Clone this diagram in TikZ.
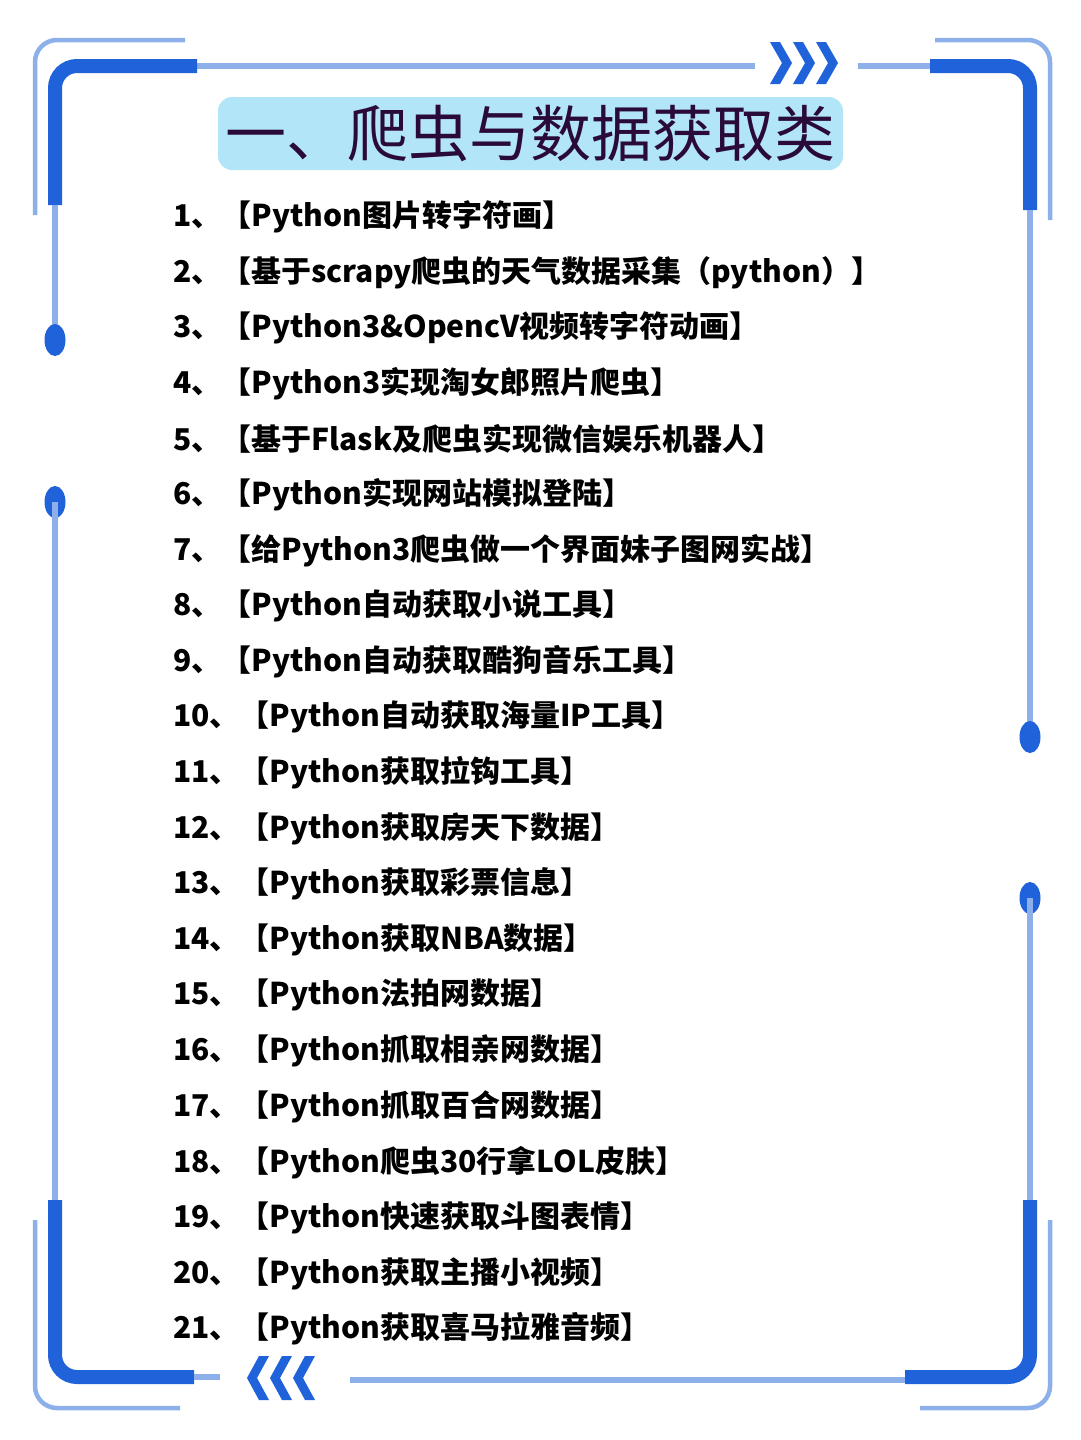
\documentclass[tikz,border=0pt]{standalone}
\usepackage{fontspec}
\setmainfont{Noto Sans CJK SC}
\definecolor{thickb}{HTML}{1F62DA}
\definecolor{thinb}{HTML}{8DB0EA}
\definecolor{titlebg}{HTML}{B3E5F8}
\definecolor{titlefg}{HTML}{2A0A3A}
\tikzset{
  thickline/.style={thickb,line width=14pt,rounded corners=22pt},
  thinline/.style={thinb,line width=6pt},
  outerline/.style={thinb,line width=4.5pt,rounded corners=22pt},
  dotmark/.style={fill=thickb,draw=none},
  chev/.style={fill=thickb,draw=none},
  item/.style={anchor=west,font=\fontsize{30}{30}\selectfont\bfseries,text=black,inner sep=0pt}
}
\begin{document}
\begin{tikzpicture}[x=1pt,y=-1pt]
\useasboundingbox[fill=white] (0,0) rectangle (1080,1440);
% outer thin corner lines
\draw[outerline] (185,40) -- (35,40) -- (35,215);
\draw[outerline] (935,40) -- (1050,40) -- (1050,220);
\draw[outerline] (35,1220) -- (35,1408) -- (180,1408);
\draw[outerline] (1050,1220) -- (1050,1408) -- (920,1408);
% top
\draw[thinline] (197,66) -- (755,66);
\draw[thinline] (858,66) -- (930,66);
\draw[thickline] (197,66) -- (55,66) -- (55,205);
\draw[thickline] (930,66) -- (1030,66) -- (1030,210);
\foreach \x in {770,793,816}
  \fill[chev] (\x,42) -- (\x+10,42) -- (\x+22,63) -- (\x+10,84) -- (\x,84) -- (\x+12,63) -- cycle;
% left side
\draw[thinline] (55,205) -- (55,340);
\fill[dotmark] (55,340) ellipse[x radius=10.5,y radius=16];
\fill[dotmark] (55,502) ellipse[x radius=10.5,y radius=16];
\draw[thinline] (55,502) -- (55,1200);
\draw[thickline] (55,1200) -- (55,1377) -- (194,1377);
\draw[thinline] (194,1377) -- (220,1377);
% right side
\draw[thinline] (1030,210) -- (1030,737);
\fill[dotmark] (1030,737) ellipse[x radius=10.5,y radius=16];
\fill[dotmark] (1030,898) ellipse[x radius=10.5,y radius=16];
\draw[thinline] (1030,898) -- (1030,1200);
\draw[thickline] (1030,1200) -- (1030,1377) -- (905,1377);
\draw[thinline] (350,1380) -- (905,1380);
\foreach \x in {315,292,269}
  \fill[chev] (\x,1356) -- (\x-10,1356) -- (\x-22,1378) -- (\x-10,1400) -- (\x,1400) -- (\x-12,1378) -- cycle;
% title
\node[fill=titlebg,rounded corners=14pt,minimum width=625pt,minimum height=73pt,inner sep=0pt] (titlebox) at (530.5,133.5) {};
\node[text=titlefg,font=\fontsize{61}{61}\selectfont,inner sep=0pt] (title) at (titlebox.center) {一、爬虫与数据获取类};
% items
\foreach \t [count=\i] in {
  {1、【Python图片转字符画】},
  {2、【基于scrapy爬虫的天气数据采集（python）】},
  {3、【Python3\&OpencV视频转字符动画】},
  {4、【Python3实现淘女郎照片爬虫】},
  {5、【基于Flask及爬虫实现微信娱乐机器人】},
  {6、【Python实现网站模拟登陆】},
  {7、【给Python3爬虫做一个界面妹子图网实战】},
  {8、【Python自动获取小说工具】},
  {9、【Python自动获取酷狗音乐工具】},
  {10、【Python自动获取海量IP工具】},
  {11、【Python获取拉钩工具】},
  {12、【Python获取房天下数据】},
  {13、【Python获取彩票信息】},
  {14、【Python获取NBA数据】},
  {15、【Python法拍网数据】},
  {16、【Python抓取相亲网数据】},
  {17、【Python抓取百合网数据】},
  {18、【Python爬虫30行拿LOL皮肤】},
  {19、【Python快速获取斗图表情】},
  {20、【Python获取主播小视频】},
  {21、【Python获取喜马拉雅音频】}}
  \node[item] (item\i) at (173,{217+55.6*(\i-1)}) {\t};
\end{tikzpicture}
\end{document}
